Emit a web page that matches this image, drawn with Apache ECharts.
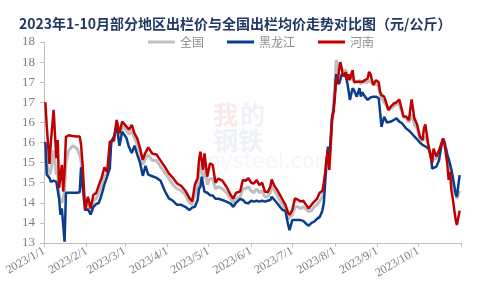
<!DOCTYPE html>
<html><head><meta charset="utf-8">
<script src="https://cdn.jsdelivr.net/npm/echarts@6/dist/echarts.min.js"></script>
<style>html,body{margin:0;padding:0;background:#fff}#c{width:480px;height:288px}</style>
</head><body><div id="c"></div>
<script>
// days since 2023-01-01
const tickDays = [0,31,59,90,120,151,181,212,243,273,304];
const tickLabels = ['2023/1/1','2023/2/1','2023/3/1','2023/4/1','2023/5/1','2023/6/1','2023/7/1','2023/8/1','2023/9/1','2023/10/1'];
const seriesNames = ['全国','黑龙江','河南'];

const days = [1,2,4,5,7,9,10,11,12,13,14,15,16,18,21,24,26,27,28,30,
32,34,36,38,40,42,44,46,48,49,51,53,55,57,
60,62,64,66,68,70,72,74,76,79,82,85,88,
91,94,97,100,103,106,108,110,112,113,114,115,116,117,118,119,121,123,125,
127,130,133,136,138,140,143,145,147,149,
151,153,155,157,159,161,163,165,166,168,170,172,174,176,178,179,
181,183,185,187,189,191,193,195,197,199,201,202,203,204,205,206,207,208,210,211,212,
213,214,215,216,217,218,220,221,222,223,224,225,226,228,230,231,232,234,236,237,238,240,242,
244,245,246,248,250,251,253,255,257,259,261,262,264,266,268,270,272,
274,276,277,278,280,282,283,284,286,288,290,291,292,294,295,296,297,298,300,301,302,303];

const national = [15.5,15.0,14.7,14.8,15.3,14.7,14.75,14.2,14.05,14.0,14.1,14.3,15.0,15.3,15.42,15.35,15.2,15.05,14.6,13.87,
13.95,13.8,14.05,14.1,14.25,14.45,14.7,14.7,15.2,15.5,15.6,16.0,15.6,15.9,
15.8,15.7,15.8,15.6,15.45,15.25,14.95,15.1,15.2,15.05,15.05,14.9,14.75,
14.6,14.45,14.35,14.3,14.2,14.0,13.95,14.2,14.4,14.7,14.85,14.95,14.6,14.75,14.8,14.45,14.6,14.6,14.35,
14.4,14.35,14.25,14.1,14.0,14.1,14.15,14.35,14.35,14.4,
14.3,14.25,14.35,14.25,14.3,14.15,14.15,14.25,14.42,14.3,14.2,14.05,13.95,13.85,13.6,13.6,
13.7,13.9,13.9,13.85,13.9,13.85,13.78,13.8,13.9,13.95,14.05,14.1,14.15,14.35,14.7,15.05,15.3,15.0,16.1,16.4,16.9,
17.55,17.45,17.3,17.35,17.35,17.3,17.3,17.2,17.15,17.1,17.1,17.15,17.05,17.0,17.05,16.95,17.0,17.0,17.0,17.05,17.05,16.95,16.95,
16.9,16.7,16.6,16.5,16.4,16.3,16.35,16.4,16.45,16.45,16.25,16.15,16.1,16.0,16.2,15.95,15.85,
15.6,15.55,15.6,15.65,15.45,15.2,15.05,15.1,15.1,15.2,15.5,15.6,15.5,15.2,15.0,14.95,14.7,14.5,14.2,14.1,14.1,14.3];

const heilongjiang = [15.52,14.7,14.62,14.52,14.55,14.52,14.48,14.1,13.7,13.86,13.45,13.03,14.25,14.25,14.25,14.25,14.26,14.88,14.45,13.82,
13.84,13.71,13.9,13.97,14.0,14.2,14.45,14.65,14.86,15.52,15.65,15.92,15.42,15.77,
15.62,15.38,15.24,15.42,15.2,15.0,14.67,14.92,14.7,14.66,14.62,14.55,14.3,
14.11,14.05,13.95,13.95,13.9,13.82,13.88,13.9,14.07,14.35,14.4,14.65,14.45,14.28,14.3,14.25,14.19,14.18,14.1,
14.1,14.07,14.03,13.98,13.9,14.0,14.1,14.07,14.0,13.99,
14.05,14.03,14.05,14.03,14.05,14.03,14.05,14.07,14.15,14.07,13.99,13.9,13.82,13.8,13.45,13.32,
13.57,13.57,13.57,13.57,13.55,13.48,13.43,13.5,13.53,13.6,13.65,13.72,13.82,14.0,14.5,15.0,15.4,15.06,16.14,16.28,16.7,
17.2,17.05,16.95,17.05,17.2,17.2,17.14,17.0,16.8,16.56,16.55,16.85,16.8,16.64,16.85,16.64,16.75,16.64,16.56,16.58,16.62,16.64,16.64,
16.6,16.27,15.89,16.14,16.0,15.98,16.02,16.06,16.1,16.02,15.98,15.95,15.85,15.8,15.73,15.65,15.58,
15.5,15.44,15.42,15.4,15.36,15.2,14.85,14.84,14.9,15.06,15.48,15.58,15.5,15.2,15.1,15.06,14.82,14.65,14.24,14.15,14.15,14.69];

const henan = [16.5,15.9,14.97,15.5,16.31,15.11,15.56,14.37,14.65,14.94,14.28,14.8,15.64,15.68,15.66,15.65,15.65,15.45,15.02,13.82,
14.15,13.86,14.2,14.24,14.44,14.62,14.88,14.76,15.52,15.55,15.55,16.06,15.73,16.02,
15.9,15.82,15.94,15.72,15.6,15.36,15.07,15.25,15.38,15.22,15.2,15.05,14.9,
14.73,14.62,14.48,14.42,14.3,14.12,14.03,14.45,14.62,15.06,15.27,15.28,14.82,15.23,15.27,14.65,14.98,14.94,14.5,
14.6,14.55,14.4,14.2,14.1,14.25,14.28,14.57,14.55,14.61,
14.5,14.48,14.57,14.44,14.5,14.28,14.26,14.4,14.58,14.42,14.32,14.2,14.07,13.95,13.75,13.7,
13.82,14.11,14.08,14.03,14.05,13.95,13.86,13.95,14.03,14.1,14.25,14.28,14.3,14.5,14.75,15.1,15.3,14.82,16.06,16.25,16.6,
17.1,16.95,17.3,17.5,17.35,17.15,17.25,17.05,17.2,17.05,17.2,17.3,17.0,17.01,17.01,17.0,17.01,17.05,17.1,17.26,17.2,16.93,17.05,
17.0,16.76,16.68,16.64,16.43,16.31,16.4,16.47,16.5,16.57,16.3,16.14,16.15,16.05,16.57,16.1,15.95,
15.65,15.56,15.85,15.95,15.48,15.11,15.0,15.35,15.15,15.31,15.5,15.6,15.45,14.97,14.57,14.77,14.32,14.1,13.6,13.45,13.42,13.8];

const colors = ['#bfbfbf','#0b3d8f','#c00000'];
const widths = [3,2.5,2.5];
const values = [national, heilongjiang, henan];

const chart = echarts.init(document.getElementById('c'), null, {renderer:'canvas'});
chart.setOption({
  animation:false,
  backgroundColor:'#fff',
  title:{text:'2023年1-10月部分地区出栏价与全国出栏均价走势对比图（元/公斤）',left:14,top:12,
    textStyle:{fontSize:14,fontWeight:'bold',color:'#1f3864',fontFamily:'Noto Sans CJK SC'}},
  legend:{left:148,top:36,padding:0,itemWidth:27,itemHeight:3,itemGap:23,icon:'rect',
    textStyle:{fontSize:12,color:'#8c8c8c',fontFamily:'Noto Sans CJK SC'},
    data:seriesNames},
  graphic:[
    {type:'text',left:213,top:102,z:-1,style:{text:'我',fontSize:25,fontWeight:'bold',fill:'#fbe9e9',fontFamily:'Noto Sans CJK SC'}},
    {type:'text',left:240,top:102,z:-1,style:{text:'的',fontSize:25,fontWeight:'bold',fill:'#eef1f7',fontFamily:'Noto Sans CJK SC'}},
    {type:'text',left:213,top:128,z:-1,style:{text:'钢铁',fontSize:25,fontWeight:'bold',fill:'#eef1f7',fontFamily:'Noto Sans CJK SC'}},
    {type:'text',left:200,top:152,z:-1,style:{text:'mysteel.com',fontSize:21,fill:'#f6f6f6',fontFamily:'DejaVu Sans'}}
  ],
  grid:{left:44,right:19,top:42,bottom:45,containLabel:false},
  xAxis:{type:'value',min:0,max:304,
    axisLine:{show:true,lineStyle:{color:'#bfbfbf',width:1}},
    axisTick:{show:true,length:4,lineStyle:{color:'#bfbfbf'},customValues:tickDays},
    axisLabel:{customValues:tickDays.slice(0,10),rotate:30,margin:7,fontSize:12,color:'#7f7f7f',fontFamily:'Liberation Serif',
      formatter:function(v){const i=tickDays.indexOf(v);return i>=0&&i<tickLabels.length?tickLabels[i]:'';}},
    splitLine:{show:false}},
  yAxis:{type:'value',min:13,max:18,interval:0.5,
    axisLine:{show:true,lineStyle:{color:'#bfbfbf',width:1}},
    axisTick:{show:true,length:4,lineStyle:{color:'#bfbfbf'}},
    axisLabel:{margin:9,fontSize:13,color:'#7f7f7f',fontFamily:'Liberation Serif',
      formatter:function(v){return String(Math.round(v));}},
    splitLine:{show:false}},
  series:seriesNames.map((n,k)=>({
    name:n,type:'line',symbol:'none',z:2+k,
    data:days.map((d,i)=>[d,values[k][i]]),
    lineStyle:{color:colors[k],width:widths[k]},
    itemStyle:{color:colors[k]}
  }))
});
</script></body></html>
